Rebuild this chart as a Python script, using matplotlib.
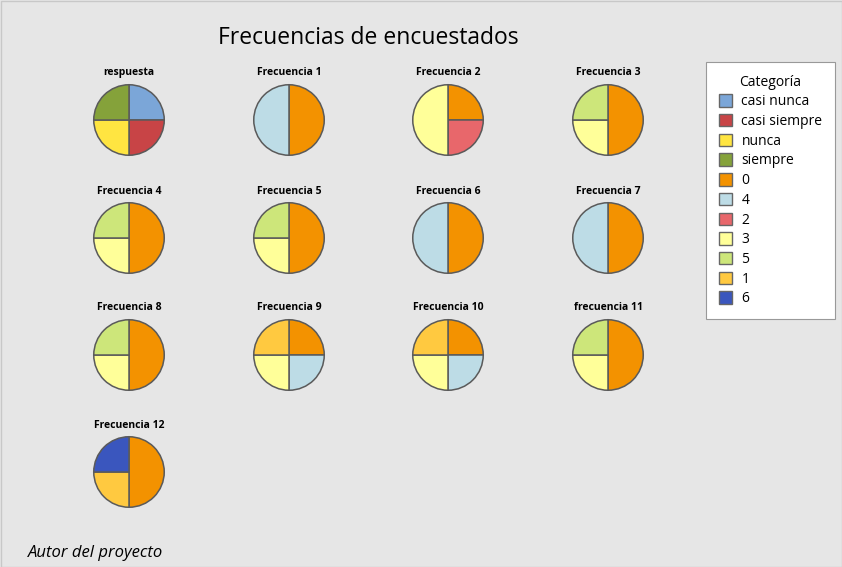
import matplotlib
matplotlib.use("Agg")
import matplotlib.pyplot as plt
from matplotlib.patches import Patch, Rectangle

plt.rcParams['font.family'] = ['Open Sans', 'DejaVu Sans']

# data
titles = ["respuesta", "Frecuencia 1", "Frecuencia 2", "Frecuencia 3",
          "Frecuencia 4", "Frecuencia 5", "Frecuencia 6", "Frecuencia 7",
          "Frecuencia 8", "Frecuencia 9", "Frecuencia 10", "frecuencia 11",
          "Frecuencia 12"]
slice_labels = [
    ["casi nunca", "casi siempre", "nunca", "siempre"],
    ["0", "4"],
    ["0", "2", "3"],
    ["0", "3", "5"],
    ["0", "3", "5"],
    ["0", "3", "5"],
    ["0", "4"],
    ["0", "4"],
    ["0", "3", "5"],
    ["0", "4", "3", "1"],
    ["0", "4", "3", "1"],
    ["0", "3", "5"],
    ["0", "1", "6"],
]
slice_counts = [
    [1, 1, 1, 1],
    [2, 2],
    [1, 1, 2],
    [2, 1, 1],
    [2, 1, 1],
    [2, 1, 1],
    [2, 2],
    [2, 2],
    [2, 1, 1],
    [1, 1, 1, 1],
    [1, 1, 1, 1],
    [2, 1, 1],
    [2, 1, 1],
]
categories = ["casi nunca", "casi siempre", "nunca", "siempre",
              "0", "4", "2", "3", "5", "1", "6"]
cat_colors = ["#7BA6D8", "#C84446", "#FFE541", "#85A23A",
              "#F39200", "#BDDCE6", "#E8676B", "#FFFF99", "#CDE67A",
              "#FFC940", "#3A56BE"]
color_of = dict(zip(categories, cat_colors))

W, H = 842, 567
bg = "#E6E6E6"
fig = plt.figure(figsize=(W / 100, H / 100), dpi=100, facecolor=bg)
fig.patches.append(Rectangle((0.5 / W, 0.5 / H), 1 - 1 / W, 1 - 1 / H,
                             transform=fig.transFigure, fill=False,
                             edgecolor="#C8C8C8", lw=1))

fig.text(368 / W, 1 - 38 / H, "Frecuencias de encuestados", ha="center",
         va="center", fontsize=16.5)

col_x = [129, 289, 448, 608]
row_y = [120, 238, 355, 472]
size = 74
for i, t in enumerate(titles):
    cx = col_x[i % 4]
    cy = row_y[i // 4]
    ax = fig.add_axes([(cx - size / 2) / W, 1 - (cy + size / 2) / H,
                       size / W, size / H])
    ax.pie(slice_counts[i], colors=[color_of[c] for c in slice_labels[i]],
           startangle=90, counterclock=False, radius=1,
           wedgeprops=dict(edgecolor="#5A5A5A", linewidth=1.1))
    ax.set_xlim(-1.05, 1.05)
    ax.set_ylim(-1.05, 1.05)
    ax.set_aspect("equal")
    ax.axis("off")
    fig.text(cx / W, 1 - (cy - 47) / H, t, ha="center", va="center",
             fontsize=7.5, fontweight="bold")

handles = [Patch(facecolor=color_of[c], edgecolor="#666666", lw=1)
           for c in categories]
leg = fig.legend(handles, categories, title="Categoría", loc="upper left",
                 bbox_to_anchor=(706 / W, 1 - 62 / H), fontsize=10,
                 title_fontsize=10, handlelength=1.0, handleheight=1.0,
                 handletextpad=0.65, labelspacing=0.34, borderpad=0.9,
                 fancybox=False, framealpha=1, edgecolor="#999999",
                 borderaxespad=0)
leg.get_frame().set_linewidth(0.8)

fig.text(28 / W, 1 - 553 / H, "Autor del proyecto", ha="left", va="center",
         fontsize=12, style="italic")

fig.savefig("out.png", dpi=100, facecolor=bg)
